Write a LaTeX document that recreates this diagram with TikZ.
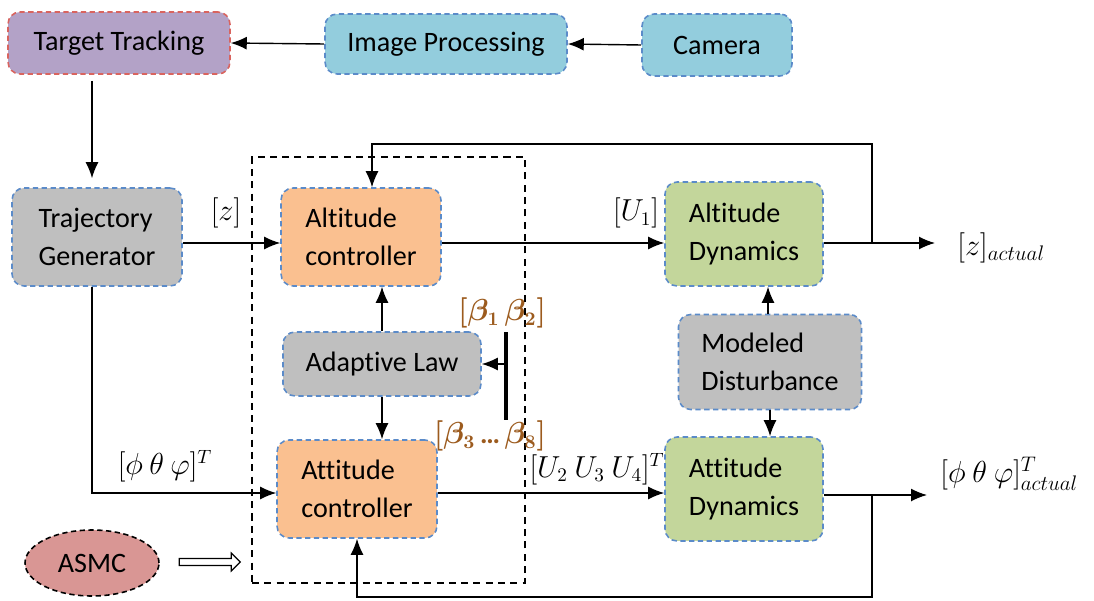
\documentclass[tikz,border=0pt]{standalone}
\usepackage{fontspec}
\setmainfont{Carlito}[Ligatures=NoCommon]
\usepackage{bm}
\usetikzlibrary{arrows.meta,shapes.geometric,shapes.arrows}

\definecolor{trackfill}{HTML}{B3A2C7}
\definecolor{trackline}{HTML}{D9645F}
\definecolor{camfill}{HTML}{93CDDD}
\definecolor{blueline}{HTML}{5B8BC9}
\definecolor{grayfill}{HTML}{BFBFBF}
\definecolor{ctrlfill}{HTML}{FAC090}
\definecolor{dynfill}{HTML}{C3D69B}
\definecolor{asmcfill}{HTML}{D99694}
\definecolor{betabrown}{HTML}{9C5B1E}

\tikzset{
    blk/.style={draw=blueline, dash pattern=on 3pt off 2pt, line width=0.9pt,
        rounded corners=0.24cm, align=left, inner sep=2pt},
    lbl/.style={font=\fontsize{16}{19}\selectfont, inner sep=1pt},
    betalbl/.style={lbl, text=betabrown},
}

\begin{document}
\begin{tikzpicture}[x=0.02cm, y=-0.02cm, >={Latex[length=0.32cm, width=0.26cm]},
    line width=0.8pt, font=\fontsize{16}{21.5}\selectfont]
    \useasboundingbox (0,0) rectangle (1094,601);

    % Vision chain on top
    \node[blk, draw=trackline, fill=trackfill, minimum width=4.44cm, minimum height=1.24cm] (track) at (119,43) {Target Tracking};
    \node[blk, fill=camfill, minimum width=4.84cm, minimum height=1.2cm] (imgproc) at (446,44) {Image Processing};
    \node[blk, fill=camfill, minimum width=3.0cm, minimum height=1.24cm] (camera) at (717,45) {Camera};

    \draw[->] (camera.west) -- (imgproc.east);
    \draw[->] (imgproc.west) -- (track.east);

    % Reference generation
    \node[blk, fill=grayfill, minimum width=3.4cm, minimum height=1.96cm] (trajgen) at (97,237) {Trajectory\\Generator};

    \draw[->, shorten <=0.12cm, shorten >=0.18cm] ([xshift=-0.1cm]trajgen.north |- track.south) -- ([xshift=-0.1cm]trajgen.north);

    % Controller block (dashed frame)
    \node[draw, dash pattern=on 4pt off 3pt, line width=0.9pt, minimum width=5.46cm, minimum height=8.52cm] (ctrlbox) at (388.5,370) {};

    \node[blk, fill=ctrlfill, minimum width=3.2cm, minimum height=1.96cm] (altctrl) at (361,237) {Altitude\\controller};
    \node[blk, fill=grayfill, minimum width=3.96cm, minimum height=1.28cm] (adapt) at (382,364) {Adaptive Law};
    \node[blk, fill=ctrlfill, minimum width=3.2cm, minimum height=1.96cm] (attctrl) at (357,489) {Attitude\\controller};

    % Plant
    \node[blk, fill=dynfill, minimum width=3.16cm, minimum height=2.08cm] (altdyn) at (744,234) {Altitude\\Dynamics};
    \node[blk, fill=grayfill, minimum width=3.66cm, minimum height=1.9cm] (dist) at (770,362) {Modeled\\Disturbance};
    \node[blk, fill=dynfill, minimum width=3.16cm, minimum height=2.08cm] (attdyn) at (744,489) {Attitude\\Dynamics};

    \node[draw, ellipse, dash pattern=on 3pt off 2pt, line width=0.9pt, fill=asmcfill, minimum width=2.68cm, minimum height=1.32cm] (asmc) at (92,563) {ASMC};

    % Altitude loop
    \draw[->] ([yshift=-0.12cm]trajgen.east) -- ([yshift=-0.12cm]altctrl.west);
    \node[lbl] (zref) at (226,213) {$[z]$};
    \draw[->] ([yshift=-0.12cm]altctrl.east) -- ([yshift=-0.12cm]altctrl.east -| altdyn.west);
    \node[lbl] (uone) at (636,213) {$[U_1]$};

    \coordinate (zend) at (935,243);
    \coordinate (ztap) at (872,243);
    \coordinate (ztop) at (872,144);
    \draw[->] (altdyn.east |- zend) -- (zend);
    \node[lbl, anchor=west, font=\fontsize{17}{20}\selectfont] (zact) at (955,248) {$[z]_{actual}$};
    \draw[->] (ztap) -- (ztop) -| ([xshift=0.22cm]altctrl.north);

    % Adaptive law
    \draw[->] (adapt.north) -- (adapt.north |- altctrl.south);
    \draw[->] (adapt.south) -- (adapt.south |- attctrl.north);
    \coordinate (bartop) at (506,332);
    \coordinate (barbot) at (506,420);
    \draw[line width=1.8pt] (bartop) -- (barbot);
    \draw[->] (bartop |- adapt.east) -- (adapt.east);
    \node[betalbl] (betaa) at (502,313) {$\bm{[\beta_1\,\beta_2]}$};
    \node[betalbl] (betab) at (490,436) {$\bm{[\beta_3}$\,\textbf{…}\,$\bm{\beta_8]}$};

    % Attitude loop
    \draw[->] ([xshift=-0.1cm]trajgen.south) |- ([yshift=-0.08cm]attctrl.west);
    \node[lbl] (angref) at (165,466) {$[\phi\ \theta\ \varphi]^T$};
    \draw[->] ([yshift=-0.08cm]attctrl.east) -- ([yshift=-0.08cm]attctrl.east -| attdyn.west);
    \node[lbl] (uatt) at (597,469) {$[U_2\ U_3\ U_4]^T$};

    \coordinate (aend) at (927,495);
    \coordinate (atap) at (872,495);
    \coordinate (abot) at (872,597);
    \draw[->] (attdyn.east |- aend) -- (aend);
    \node[lbl, anchor=west, font=\fontsize{17}{20}\selectfont] (angact) at (938,474) {$[\phi\ \theta\ \varphi]^T_{actual}$};
    \draw[->] (atap) -- (abot) -| (attctrl.south);

    % Disturbance
    \draw[->] ([xshift=-0.04cm]dist.north) -- ([xshift=-0.04cm]dist.north |- altdyn.south);
    \draw[->] (dist.south) -- (dist.south |- attdyn.north);

    % ASMC feeds the controller block
    \node[single arrow, draw, line width=0.7pt, fill=white, minimum height=1.22cm, minimum width=0.36cm,
        single arrow head extend=0.1cm, inner sep=1.5pt] (asmcarrow) at (208,562) {};
\end{tikzpicture}
\end{document}
